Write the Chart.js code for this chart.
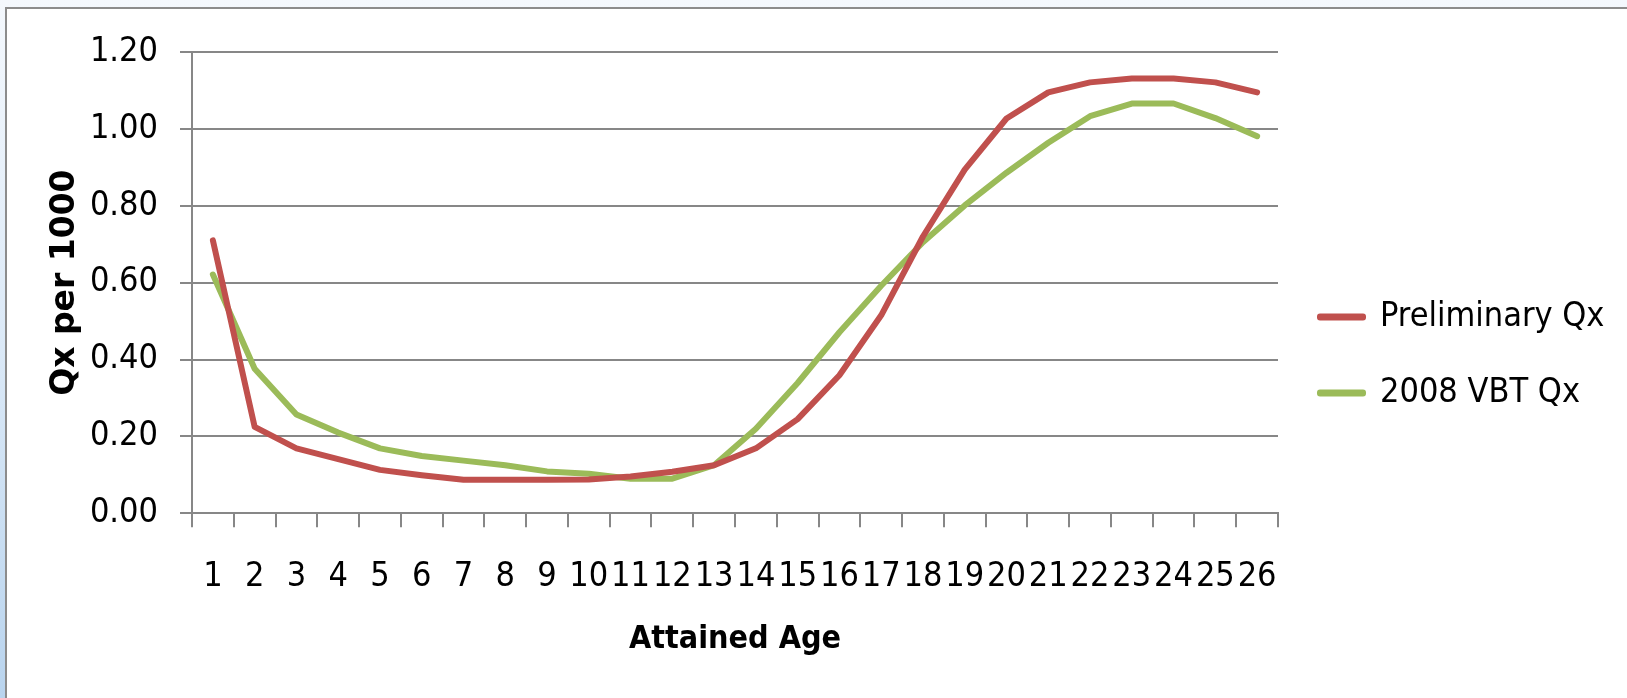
<!DOCTYPE html>
<html>
<head>
<meta charset="utf-8">
<script src="https://cdn.jsdelivr.net/npm/chart.js@4.4.1/dist/chart.umd.min.js"></script>
<style>
  html, body { margin: 0; padding: 0; }
  body {
    width: 1627px; height: 698px; overflow: hidden; position: relative;
    background: linear-gradient(to bottom, #f4f8fd 0%, #dbe9f7 50%, #b9d4ee 100%);
  }
  #frame {
    position: absolute; left: 5px; top: 7px; right: -10px; bottom: -10px;
    background: #fff; border-left: 2px solid #8c8c8c; border-top: 2px solid #8c8c8c;
  }
  #myChart { position: absolute; left: 0; top: 0; }
</style>
</head>
<body>
<div id="frame"></div>
<canvas id="myChart" width="1627" height="698"></canvas>
<script>
// data
const ages = ['1','2','3','4','5','6','7','8','9','10','11','12','13',
              '14','15','16','17','18','19','20','21','22','23','24','25','26'];
const preliminaryQx = [0.71, 0.225, 0.169, 0.141, 0.113, 0.099, 0.087, 0.087, 0.087, 0.088, 0.096, 0.108, 0.125,
                       0.169, 0.245, 0.359, 0.515, 0.72, 0.894, 1.027, 1.095, 1.121, 1.131, 1.131, 1.121, 1.095];
const vbtQx = [0.621, 0.376, 0.257, 0.210, 0.169, 0.149, 0.137, 0.125, 0.109, 0.103, 0.090, 0.090, 0.125,
               0.220, 0.339, 0.471, 0.592, 0.705, 0.801, 0.886, 0.964, 1.033, 1.066, 1.066, 1.028, 0.981];
const seriesNames = ['Preliminary Qx', '2008 VBT Qx'];

const narrow = "'Liberation Sans Narrow', 'DejaVu Sans Condensed', 'Liberation Sans', sans-serif";
const gridGray = '#878787';

document.addEventListener('DOMContentLoaded', function () {
  const ctx = document.getElementById('myChart').getContext('2d');

  // measure legend text so the legend box lands where the original has it
  ctx.font = '34px ' + narrow;
  const textW = Math.max(...seriesNames.map(s => ctx.measureText(s).width));
  const padRight = Math.max(0, 237 - textW);

  new Chart(ctx, {
    type: 'line',
    data: {
      labels: ages,
      datasets: [{
        label: seriesNames[0],
        data: preliminaryQx,
        borderColor: '#C0504D',
        backgroundColor: '#C0504D',
        borderWidth: 6,
        borderJoinStyle: 'round',
        borderCapStyle: 'round',
        pointRadius: 0,
        tension: 0
      }, {
        label: seriesNames[1],
        data: vbtQx,
        borderColor: '#9BBB59',
        backgroundColor: '#9BBB59',
        borderWidth: 6,
        borderJoinStyle: 'round',
        borderCapStyle: 'round',
        pointRadius: 0,
        tension: 0
      }]
    },
    options: {
      responsive: false,
      animation: false,
      layout: { padding: { left: 0, top: 52, bottom: 40, right: padRight } },
      plugins: {
        tooltip: { enabled: false },
        legend: {
          position: 'right',
          labels: {
            color: '#000',
            font: { family: narrow, size: 34 },
            boxWidth: 43,
            boxHeight: 1,
            padding: 42
          }
        }
      },
      scales: {
        x: {
          offset: true,
          grid: {
            offset: true,
            drawOnChartArea: false,
            drawTicks: true,
            tickLength: 14,
            color: gridGray,
            lineWidth: 2
          },
          border: { color: gridGray, width: 2 },
          ticks: {
            color: '#000',
            font: { family: narrow, size: 34 },
            padding: 29,
            autoSkip: false,
            maxRotation: 0,
            minRotation: 0
          },
          title: {
            display: true,
            text: 'Attained Age',
            color: '#000',
            font: { family: narrow, size: 32, weight: 'bold', lineHeight: 0.9 },
            padding: { top: 0, bottom: 4 }
          },
          afterFit: function (scale) { scale.height = 144.7; }
        },
        y: {
          min: 0,
          max: 1.2,
          grid: {
            color: gridGray,
            lineWidth: 2,
            drawTicks: true,
            tickLength: 12
          },
          border: { color: gridGray, width: 2 },
          ticks: {
            stepSize: 0.2,
            color: '#000',
            font: { family: narrow, size: 34 },
            padding: 22,
            callback: v => Number(v).toFixed(2)
          },
          title: {
            display: true,
            text: 'Qx per 1000',
            color: '#000',
            font: { family: "'DejaVu Sans', sans-serif", size: 33, weight: 'bold' },
            padding: { top: 46, bottom: 0 }
          },
          afterFit: function (scale) { scale.width = 192; }
        }
      }
    }
  });
});
</script>
</body>
</html>
